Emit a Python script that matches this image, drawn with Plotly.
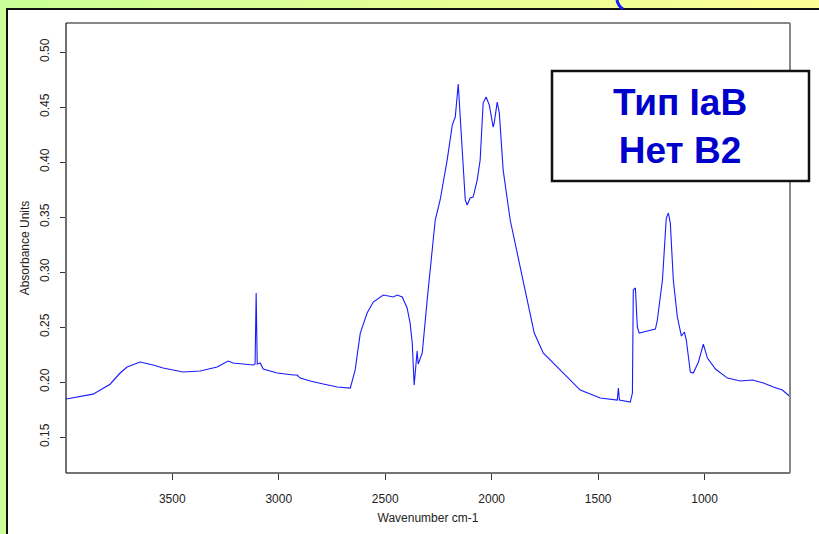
import plotly.graph_objects as go

# Spectrum
wavenumber = [3999, 3872, 3792, 3745, 3712, 3651, 3590, 3543, 3449, 3369, 3289, 3242, 3238, 3214,
              3148, 3120, 3111, 3106, 3101, 3087, 3073, 3007, 2932, 2914, 2899, 2852, 2791, 2725,
              2664, 2641, 2617, 2585, 2556, 2509, 2462, 2444, 2420, 2397, 2383, 2373, 2364, 2350,
              2345, 2326, 2303, 2265, 2242, 2209, 2185, 2171, 2157, 2148, 2124, 2115, 2101, 2087,
              2068, 2054, 2040, 2026, 2011, 1993, 1988, 1974, 1964, 1946, 1913, 1866, 1819, 1800,
              1758, 1663, 1584, 1490, 1410, 1405, 1400, 1349, 1339, 1335, 1325, 1316, 1307, 1269,
              1231, 1222, 1198, 1180, 1170, 1161, 1147, 1128, 1109, 1095, 1086, 1067, 1053, 1029,
              1006, 987, 949, 893, 832, 775, 724, 677, 635, 602]
absorbance = [0.1845, 0.189, 0.198, 0.2082, 0.2136, 0.2182, 0.2155, 0.2127, 0.2091, 0.210, 0.2136,
              0.2182, 0.2191, 0.2173, 0.2164, 0.2155, 0.2164, 0.2809, 0.2164, 0.2173, 0.2118, 0.2082,
              0.2064, 0.2064, 0.2036, 0.2009, 0.1982, 0.1955, 0.1945, 0.211, 0.2445, 0.2627, 0.2727,
              0.2791, 0.2773, 0.2791, 0.2773, 0.2673, 0.2536, 0.2355, 0.1973, 0.2282, 0.2164, 0.2264,
              0.2745, 0.3473, 0.3655, 0.4018, 0.4336, 0.4409, 0.4709, 0.4409, 0.3655, 0.3609, 0.3673,
              0.3682, 0.3836, 0.4018, 0.4536, 0.4591, 0.4518, 0.4318, 0.4355, 0.4545, 0.4445, 0.3927,
              0.3473, 0.3045, 0.2627, 0.2445, 0.2264, 0.2082, 0.1927, 0.1855, 0.1836, 0.1945, 0.1836,
              0.1818, 0.190, 0.2836, 0.2855, 0.250, 0.2445, 0.2464, 0.2482, 0.2564, 0.2927, 0.3491,
              0.3536, 0.3445, 0.2927, 0.2591, 0.2418, 0.2455, 0.2382, 0.2091, 0.2082, 0.2182, 0.2345,
              0.2218, 0.2118, 0.2036, 0.2009, 0.2018, 0.1991, 0.1955, 0.1927, 0.1873]

x_ticks = [3500, 3000, 2500, 2000, 1500, 1000]
y_ticks = [0.15, 0.20, 0.25, 0.30, 0.35, 0.40, 0.45, 0.50]
box_lines = ["Тип IaB", "Нет B2"]

W, H = 819, 534
L, R, T, B = 66, 790, 23, 473  # plot area in page pixels


def px(x):
    return (x - L) / (R - L)


def py(y):
    return (B - y) / (B - T)


fig = go.Figure()
fig.add_trace(go.Scatter(x=wavenumber, y=absorbance, mode="lines",
                         line=dict(color="#1a1aff", width=1.1), hoverinfo="skip"))

shapes = []
# gradient background (green -> yellow)
n = 40
for i in range(n):
    f = i / (n - 1)
    r = int(200 + (255 - 200) * f)
    x0 = -20 + i * (W + 40) / n
    x1 = -20 + (i + 1) * (W + 40) / n + 1
    shapes.append(dict(type="rect", xref="paper", yref="paper", x0=px(x0), x1=px(x1),
                       y0=py(H + 20), y1=py(-20), fillcolor=f"rgb({r},255,150)",
                       line=dict(width=0), layer="below"))
# white panel
shapes.append(dict(type="rect", xref="paper", yref="paper", x0=px(7), x1=px(W + 20),
                   y0=py(H + 20), y1=py(9), fillcolor="white",
                   line=dict(color="#111", width=2), layer="below"))
# plot frame
shapes.append(dict(type="line", xref="paper", yref="paper", x0=0, x1=0, y0=0, y1=1,
                   line=dict(color="#111", width=1.2)))
shapes.append(dict(type="line", xref="paper", yref="paper", x0=0, x1=1, y0=1, y1=1,
                   line=dict(color="#111", width=1.2)))
shapes.append(dict(type="line", xref="paper", yref="paper", x0=0, x1=1, y0=0, y1=0,
                   line=dict(color="#444", width=1.5)))
shapes.append(dict(type="line", xref="paper", yref="paper", x0=1, x1=1, y0=0, y1=1,
                   line=dict(color="#888", width=2)))
# label box
shapes.append(dict(type="rect", xref="paper", yref="paper", x0=px(552), x1=px(809),
                   y0=py(181), y1=py(71), fillcolor="white",
                   line=dict(color="#111", width=2.5)))
# small blue mark at the top edge
shapes.append(dict(type="path", xref="paper", yref="paper",
                   path=f"M {px(617)},{py(0)} Q {px(618)},{py(6)} {px(623)},{py(9)}",
                   line=dict(color="#1a1aff", width=3)))

fig.update_layout(
    width=W, height=H,
    margin=dict(l=L, r=W - R, t=T, b=H - B),
    paper_bgcolor="#e6ff99", plot_bgcolor="white",
    showlegend=False,
    font=dict(family="Liberation Sans, Arial", size=12, color="#222"),
    shapes=shapes,
    annotations=[dict(xref="paper", yref="paper", x=px(680), y=py(126.5),
                      text="<b>" + "<br>".join(box_lines) + "</b>", showarrow=False,
                      font=dict(family="Liberation Sans, Arial", size=37, color="#0000cc"),
                      align="center", xanchor="center", yanchor="middle")],
)
fig.update_xaxes(range=[3999, 599], tickvals=x_ticks, ticktext=[str(v) for v in x_ticks],
                 ticks="outside", ticklen=6, tickcolor="#333", showgrid=False, zeroline=False,
                 showline=False, ticklabelstandoff=9,
                 title=dict(text="Wavenumber cm-1", font=dict(size=12), standoff=8))
fig.update_yaxes(range=[0.1173, 0.5264], tickvals=y_ticks, ticktext=[f"{v:.2f}" for v in y_ticks],
                 tickangle=-90, ticks="outside", ticklen=5, tickcolor="#333", showgrid=False,
                 zeroline=False, showline=False, ticklabelstandoff=6,
                 title=dict(text="Absorbance Units", font=dict(size=12), standoff=6))

fig.write_html("out.html", config={"displayModeBar": False, "staticPlot": True},
               post_script="document.body.style.margin='0px';"
                           "document.body.style.overflow='hidden';")
